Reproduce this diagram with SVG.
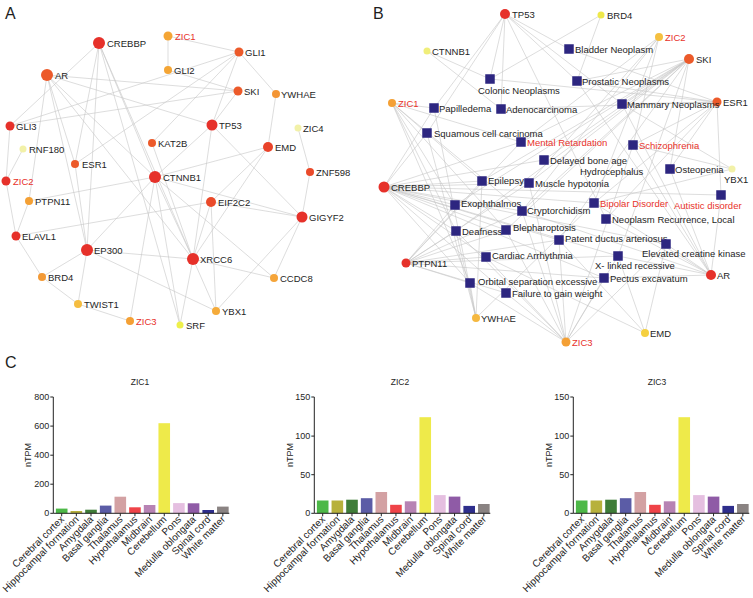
<svg xmlns="http://www.w3.org/2000/svg" width="753" height="598" viewBox="0 0 753 598">
<style>
.e{stroke:#c6c6c6;stroke-width:0.6;fill:none}
text{font-family:"Liberation Sans",Arial,sans-serif;fill:#1e1e1e}
.t{font-size:9.5px}
.r{fill:#e8322a}
.sq{fill:#2d2680}
.pl{font-size:16px}
.ax{stroke:#222;stroke-width:1;fill:none}
.tk{font-size:9px;text-anchor:end}
.xl{font-size:10px;text-anchor:end}
.ti{font-size:8.5px;text-anchor:middle}
</style>
<rect width="753" height="598" fill="#fff"/>
<text class="pl" x="5" y="19">A</text>
<text class="pl" x="373" y="19">B</text>
<text class="pl" x="5" y="368">C</text>

<g id="edges-a">
<path class="e" d="M168 36L168 70M168 36L239 52M239 52L276 94M239 52L212 125M239 52L75 164M239 52L152 143M239 52L10 126M276 94L268 147M298 128L310 172M310 172L302 217M99 43L75 164M99 43L87 250M99 43L155 177M99 43L193 259M99 43L10 126M99 43L180 325M47 75L29 201M47 75L87 250M47 75L75 164M47 75L155 177M47 75L193 259M47 75L238 91M47 75L212 125M10 126L238 91M10 126L6 181M23 149L6 181M6 181L16 236M29 201L16 236M29 201L155 177M75 164L87 250M16 236L211 202M16 236L42 277M87 250L42 277M87 250L78 304M87 250L155 177M87 250L193 259M87 250L216 311M42 277L78 304M78 304L130 321M130 321L155 177M180 325L193 259M180 325L155 177M152 143L193 259M216 311L193 259M216 311L211 202M216 311L302 217M193 259L274 278M193 259L211 202M193 259L212 125M193 259L155 177M193 259L268 147M211 202L302 217M211 202L268 147M302 217L274 278M302 217L155 177M302 217L212 125M268 147L155 177M212 125L155 177M212 125L238 91M238 91L168 70M155 177L274 278"/>
</g>

<g id="a-crebbp"><circle cx="99" cy="43" r="6" fill="#e6312a"/><text class="t" x="107" y="46.5">CREBBP</text></g>
<g id="a-zic1"><circle cx="168" cy="36" r="4.5" fill="#f4a535"/><text class="t r" x="175" y="40" font-size="10.5">ZIC1</text></g>
<g id="a-gli2"><circle cx="168" cy="70" r="4" fill="#f4a535"/><text class="t" x="174" y="73.5">GLI2</text></g>
<g id="a-ar"><circle cx="47" cy="75" r="6" fill="#ec5a2a"/><text class="t" x="55" y="78.5">AR</text></g>
<g id="a-gli1"><circle cx="239" cy="52" r="4.5" fill="#ec5a2a"/><text class="t" x="245" y="55.5">GLI1</text></g>
<g id="a-ski"><circle cx="238" cy="91" r="4.5" fill="#ec5a2a"/><text class="t" x="244" y="94.5">SKI</text></g>
<g id="a-ywhae"><circle cx="276" cy="94" r="4" fill="#f39535"/><text class="t" x="281" y="97.5">YWHAE</text></g>
<g id="a-zic4"><circle cx="298" cy="128" r="3.5" fill="#f2f1a8"/><text class="t" x="303" y="131.5" font-size="10.5" fill="#3b3b96">ZIC4</text></g>
<g id="a-tp53"><circle cx="212" cy="125" r="5.5" fill="#e6312a"/><text class="t" x="219" y="128.5">TP53</text></g>
<g id="a-emd"><circle cx="268" cy="147" r="5" fill="#e9432a"/><text class="t" x="275" y="150.5">EMD</text></g>
<g id="a-gli3"><circle cx="10" cy="126" r="4.5" fill="#e6312a"/><text class="t" x="16" y="129.5">GLI3</text></g>
<g id="a-rnf180"><circle cx="23" cy="149" r="3.5" fill="#f2f1a8"/><text class="t" x="29" y="152.5">RNF180</text></g>
<g id="a-kat2b"><circle cx="152" cy="143" r="4" fill="#ec5a2a"/><text class="t" x="158" y="146.5">KAT2B</text></g>
<g id="a-esr1"><circle cx="75" cy="164" r="4" fill="#ec5a2a"/><text class="t" x="82" y="167.5">ESR1</text></g>
<g id="a-zic2"><circle cx="6" cy="181" r="4.5" fill="#e6312a"/><text class="t r" x="13" y="184.5" font-size="10.5">ZIC2</text></g>
<g id="a-ctnnb1"><circle cx="155" cy="177" r="6" fill="#e6312a"/><text class="t" x="163" y="180.5">CTNNB1</text></g>
<g id="a-ptpn11"><circle cx="29" cy="201" r="4" fill="#f4a035"/><text class="t" x="35" y="204.5">PTPN11</text></g>
<g id="a-elavl1"><circle cx="16" cy="236" r="4.5" fill="#e6312a"/><text class="t" x="22" y="239.5">ELAVL1</text></g>
<g id="a-ep300"><circle cx="87" cy="250" r="6" fill="#e6312a"/><text class="t" x="94" y="253.5">EP300</text></g>
<g id="a-brd4"><circle cx="42" cy="277" r="4" fill="#f39a36"/><text class="t" x="48" y="280.5">BRD4</text></g>
<g id="a-twist1"><circle cx="78" cy="304" r="4" fill="#f5bd40"/><text class="t" x="84" y="307.5">TWIST1</text></g>
<g id="a-zic3"><circle cx="130" cy="321" r="4" fill="#f4a035"/><text class="t r" x="136" y="324.5" font-size="10.5">ZIC3</text></g>
<g id="a-srf"><circle cx="180" cy="325" r="3.5" fill="#eef04a"/><text class="t" x="186" y="328.5">SRF</text></g>
<g id="a-znf598"><circle cx="310" cy="172" r="4" fill="#ea4a2a"/><text class="t" x="316" y="175.5">ZNF598</text></g>
<g id="a-eif2c2"><circle cx="211" cy="202" r="5" fill="#ea4a2a"/><text class="t" x="218" y="205.5">EIF2C2</text></g>
<g id="a-gigyf2"><circle cx="302" cy="217" r="5.5" fill="#e6312a"/><text class="t" x="309" y="220.5">GIGYF2</text></g>
<g id="a-xrcc6"><circle cx="193" cy="259" r="6" fill="#e6312a"/><text class="t" x="200" y="262.5">XRCC6</text></g>
<g id="a-ccdc8"><circle cx="274" cy="278" r="4" fill="#f5a53a"/><text class="t" x="280" y="281.5">CCDC8</text></g>
<g id="a-ybx1"><circle cx="216" cy="311" r="4" fill="#f5ab3a"/><text class="t" x="222" y="314.5">YBX1</text></g>

<g id="edges-b">
<path class="e" d="M505 14L490 79M505 14L501 109M505 14L427 133M505 14L569 49M505 14L577 81M505 14L622 104M505 14L606 219M505 14L434 108"/>
<path class="e" d="M427 51L490 79M427 51L501 109"/>
<path class="e" d="M601 15L577 81M601 15L490 79"/>
<path class="e" d="M659 37L521 142M659 37L529 183M659 37L633 145M659 37L522 211M659 37L594 203"/>
<path class="e" d="M689 59L622 104M689 59L577 81M689 59L521 142M689 59L544 160M689 59L529 183M689 59L522 211M689 59L559 240M689 59L455 205M689 59L506 230M689 59L618 256M689 59L670 169M689 59L482 181M689 59L456 231"/>
<path class="e" d="M717 102L622 104M717 102L569 49M717 102L577 81M717 102L670 169M717 102L721 195M717 102L594 203M717 102L633 145M717 102L606 219M717 102L490 79M717 102L501 109"/>
<path class="e" d="M392 103L434 108M392 103L521 142M392 103L455 205M392 103L456 231M392 103L470 283M392 103L522 211M392 103L506 230M392 103L482 181"/>
<path class="e" d="M384 187L427 133M384 187L434 108M384 187L482 181M384 187L529 183M384 187L455 205M384 187L522 211M384 187L456 231M384 187L506 230M384 187L486 257M384 187L559 240M384 187L470 283M384 187L506 293M384 187L521 142M384 187L544 160M384 187L594 203M384 187L721 195M384 187L604 278M384 187L618 256M384 187L666 244"/>
<path class="e" d="M406 263L486 257M406 263L456 231M406 263L506 230M406 263L559 240M406 263L470 283M406 263L506 293M406 263L604 278M406 263L521 142M406 263L522 211M406 263L455 205M406 263L529 183M406 263L482 181M406 263L618 256"/>
<path class="e" d="M476 318L470 283M476 318L456 231M476 318L427 133M476 318L482 181M476 318L594 203M476 318L434 108"/>
<path class="e" d="M566 342L470 283M566 342L506 293M566 342L486 257M566 342L559 240M566 342L604 278M566 342L506 230M566 342L522 211M566 342L529 183M566 342L618 256M566 342L456 231M566 342L633 145M566 342L666 244"/>
<path class="e" d="M645 333L666 244M645 333L618 256M645 333L486 257M645 333L559 240"/>
<path class="e" d="M711 275L721 195M711 275L666 244M711 275L618 256M711 275L577 81M711 275L622 104M711 275L594 203M711 275L606 219M711 275L670 169M711 275L633 145M711 275L604 278M711 275L522 211"/>
<path class="e" d="M732 169L622 104M732 169L633 145M732 169L594 203"/>
</g>

<g id="b-tp53"><circle cx="505" cy="14" r="5" fill="#e6312a"/><text class="t" x="512" y="17.5">TP53</text></g>
<g id="b-brd4"><circle cx="601" cy="15" r="3.5" fill="#eee84a"/><text class="t" x="607" y="18.5">BRD4</text></g>
<g id="b-zic2"><circle cx="659" cy="37" r="4" fill="#f5c040"/><text class="t r" x="665" y="40.5" font-size="10.5">ZIC2</text></g>
<g id="b-ski"><circle cx="689" cy="59" r="5" fill="#ec5a2a"/><text class="t" x="696" y="62.5">SKI</text></g>
<g id="b-esr1"><circle cx="717" cy="102" r="4.5" fill="#ec5a2a"/><text class="t" x="723" y="105.5">ESR1</text></g>
<g id="b-ctnnb1"><circle cx="427" cy="51" r="3.5" fill="#f0ee7a"/><text class="t" x="432" y="54.5">CTNNB1</text></g>
<g id="b-zic1"><circle cx="392" cy="103" r="4" fill="#f4a035"/><text class="t r" x="398" y="106.5" font-size="10.5">ZIC1</text></g>
<g id="b-crebbp"><circle cx="384" cy="187" r="5.5" fill="#e6312a"/><text class="t" x="391" y="190.5">CREBBP</text></g>
<g id="b-ptpn11"><circle cx="406" cy="263" r="4.5" fill="#e6312a"/><text class="t" x="412" y="266.5">PTPN11</text></g>
<g id="b-ywhae"><circle cx="476" cy="318" r="4" fill="#f5b840"/><text class="t" x="481" y="321.5">YWHAE</text></g>
<g id="b-zic3"><circle cx="566" cy="342" r="4.5" fill="#f4a035"/><text class="t r" x="572" y="345.5" font-size="10.5">ZIC3</text></g>
<g id="b-emd"><circle cx="645" cy="333" r="4" fill="#f5d040"/><text class="t" x="650" y="336.5">EMD</text></g>
<g id="b-ar"><circle cx="711" cy="275" r="5" fill="#e6312a"/><text class="t" x="717" y="278.5">AR</text></g>
<g id="b-ybx1"><circle cx="732" cy="169" r="3.5" fill="#f2f1a8"/><text class="t" x="724" y="182.5">YBX1</text></g>

<g id="b-colonic"><rect class="sq" x="485.25" y="74.25" width="9.5" height="9.5"/><text class="t" x="478" y="93.5">Colonic Neoplasms</text></g>
<g id="b-papilledema"><rect class="sq" x="429.25" y="103.25" width="9.5" height="9.5"/><text class="t" x="439" y="111.5">Papilledema</text></g>
<g id="b-adeno"><rect class="sq" x="496.25" y="104.25" width="9.5" height="9.5"/><text class="t" x="506" y="112.5">Adenocarcinoma</text></g>
<g id="b-squamous"><rect class="sq" x="422.25" y="128.25" width="9.5" height="9.5"/><text class="t" x="434" y="136.5">Squamous cell carcinoma</text></g>
<g id="b-mental"><rect class="sq" x="516.25" y="137.25" width="9.5" height="9.5"/><text class="t r" x="527" y="145.5">Mental Retardation</text></g>
<g id="b-delayed"><rect class="sq" x="539.25" y="155.25" width="9.5" height="9.5"/><text class="t" x="550" y="163.5">Delayed bone age</text></g>
<g id="b-bladder"><rect class="sq" x="564.25" y="44.25" width="9.5" height="9.5"/><text class="t" x="575" y="52.5">Bladder Neoplasm</text></g>
<g id="b-prostatic"><rect class="sq" x="572.25" y="76.25" width="9.5" height="9.5"/><text class="t" x="582" y="84.5">Prostatic Neoplasms</text></g>
<g id="b-mammary"><rect class="sq" x="617.25" y="99.25" width="9.5" height="9.5"/><text class="t" x="627" y="107.5">Mammary Neoplasms</text></g>
<g id="b-schizo"><rect class="sq" x="628.25" y="140.25" width="9.5" height="9.5"/><text class="t r" x="639" y="148.5">Schizophrenia</text></g>
<g id="b-hydro"><text class="t" x="580" y="174.5">Hydrocephalus</text></g>
<g id="b-osteo"><rect class="sq" x="665.25" y="164.25" width="9.5" height="9.5"/><text class="t" x="675" y="172.5">Osteopenia</text></g>
<g id="b-epilepsy"><rect class="sq" x="477.25" y="176.25" width="9.5" height="9.5"/><text class="t" x="488" y="184">Epilepsy</text></g>
<g id="b-muscle"><rect class="sq" x="524.25" y="178.25" width="9.5" height="9.5"/><text class="t" x="535" y="186.5">Muscle hypotonia</text></g>
<g id="b-exoph"><rect class="sq" x="450.25" y="200.25" width="9.5" height="9.5"/><text class="t" x="461" y="207">Exophthalmos</text></g>
<g id="b-crypto"><rect class="sq" x="517.25" y="206.25" width="9.5" height="9.5"/><text class="t" x="527" y="213.5">Cryptorchidism</text></g>
<g id="b-bipolar"><rect class="sq" x="589.25" y="198.25" width="9.5" height="9.5"/><text class="t r" x="600" y="206.5">Bipolar Disorder</text></g>
<g id="b-autistic"><rect class="sq" x="716.25" y="190.25" width="9.5" height="9.5"/><text class="t r" x="674" y="209" font-size="11">Autistic disorder</text></g>
<g id="b-neoplasm"><rect class="sq" x="601.25" y="214.25" width="9.5" height="9.5"/><text class="t" x="612" y="222.5">Neoplasm Recurrence, Local</text></g>
<g id="b-deafness"><rect class="sq" x="451.25" y="226.25" width="9.5" height="9.5"/><text class="t" x="462" y="234.5">Deafness</text></g>
<g id="b-bleph"><rect class="sq" x="501.25" y="225.25" width="9.5" height="9.5"/><text class="t" x="513" y="230.5">Blepharoptosis</text></g>
<g id="b-patent"><rect class="sq" x="554.25" y="235.25" width="9.5" height="9.5"/><text class="t" x="565" y="241.5">Patent ductus arteriosus</text></g>
<g id="b-elevated"><rect class="sq" x="661.25" y="239.25" width="9.5" height="9.5"/><text class="t" x="642" y="256.5">Elevated creatine kinase</text></g>
<g id="b-cardiac"><rect class="sq" x="481.25" y="252.25" width="9.5" height="9.5"/><text class="t" x="492" y="258.5">Cardiac Arrhythmia</text></g>
<g id="b-xlinked"><rect class="sq" x="613.25" y="251.25" width="9.5" height="9.5"/><text class="t" x="595" y="268.5">X- linked recessive</text></g>
<g id="b-pectus"><rect class="sq" x="599.25" y="273.25" width="9.5" height="9.5"/><text class="t" x="610" y="281.5">Pectus excavatum</text></g>
<g id="b-orbital"><rect class="sq" x="465.25" y="278.25" width="9.5" height="9.5"/><text class="t" x="478" y="285">Orbital separation excessive</text></g>
<g id="b-failure"><rect class="sq" x="501.25" y="288.25" width="9.5" height="9.5"/><text class="t" x="512" y="296.5">Failure to gain weight</text></g>

<!-- Chart ZIC1 -->
<g id="chart-zic1">
<text class="ti" x="140" y="385">ZIC1</text>
<text font-size="9" text-anchor="middle" transform="translate(31,455) rotate(-90)">nTPM</text>
<g transform="translate(53.3,0)">
<rect x="2.6" y="508.6" width="11.6" height="4.7" fill="#4db848"/>
<rect x="17.25" y="511" width="11.6" height="2.3" fill="#b7b13c"/>
<rect x="31.9" y="509.7" width="11.6" height="3.6" fill="#3f7d38"/>
<rect x="46.55" y="505.6" width="11.6" height="7.7" fill="#5b5ca6"/>
<rect x="61.2" y="496.7" width="11.6" height="16.6" fill="#d3a1a3"/>
<rect x="75.85" y="507.3" width="11.6" height="6" fill="#ef4348"/>
<rect x="90.5" y="505" width="11.6" height="8.3" fill="#b783b4"/>
<rect x="105.15" y="423.2" width="11.6" height="90.1" fill="#eeea4a"/>
<rect x="119.8" y="503.1" width="11.6" height="10.2" fill="#e5bfe0"/>
<rect x="134.45" y="503.3" width="11.6" height="10" fill="#8f5ba6"/>
<rect x="149.1" y="510" width="11.6" height="3.3" fill="#2e2e8c"/>
<rect x="163.75" y="506.6" width="11.6" height="6.7" fill="#8a8382"/>
<path class="ax" d="M0 397V513.3H176M-3 397H0M-3 426.1H0M-3 455.2H0M-3 484.2H0M-3 513.3H0M8.4 513.3v3M23.05 513.3v3M37.7 513.3v3M52.35 513.3v3M67 513.3v3M81.65 513.3v3M96.3 513.3v3M110.95 513.3v3M125.6 513.3v3M140.25 513.3v3M154.9 513.3v3M169.55 513.3v3"/>
<text class="tk" x="-4" y="400">800</text>
<text class="tk" x="-4" y="429.1">600</text>
<text class="tk" x="-4" y="458.2">400</text>
<text class="tk" x="-4" y="487.2">200</text>
<text class="tk" x="-4" y="516.3">0</text>
<text class="xl" transform="translate(11.4,520) rotate(-45)">Cerebral cortex</text>
<text class="xl" transform="translate(26.05,520) rotate(-45)">Hippocampal formation</text>
<text class="xl" transform="translate(40.7,520) rotate(-45)">Amygdala</text>
<text class="xl" transform="translate(55.35,520) rotate(-45)">Basal ganglia</text>
<text class="xl" transform="translate(70,520) rotate(-45)">Thalamus</text>
<text class="xl" transform="translate(84.65,520) rotate(-45)">Hypothalamus</text>
<text class="xl" transform="translate(99.3,520) rotate(-45)">Midbrain</text>
<text class="xl" transform="translate(113.95,520) rotate(-45)">Cerebellum</text>
<text class="xl" transform="translate(128.6,520) rotate(-45)">Pons</text>
<text class="xl" transform="translate(143.25,520) rotate(-45)">Medulla oblongata</text>
<text class="xl" transform="translate(157.9,520) rotate(-45)">Spinal cord</text>
<text class="xl" transform="translate(172.55,520) rotate(-45)">White matter</text>
</g>
</g>

<!-- Chart ZIC2 -->
<g id="chart-zic2">
<text class="ti" x="400" y="385">ZIC2</text>
<text font-size="9" text-anchor="middle" transform="translate(293,455) rotate(-90)">nTPM</text>
<g transform="translate(314.3,0)">
<rect x="2.6" y="500.5" width="11.6" height="12.8" fill="#4db848"/>
<rect x="17.25" y="500.5" width="11.6" height="12.8" fill="#b7b13c"/>
<rect x="31.9" y="499.7" width="11.6" height="13.6" fill="#3f7d38"/>
<rect x="46.55" y="498.2" width="11.6" height="15.1" fill="#5b5ca6"/>
<rect x="61.2" y="492" width="11.6" height="21.3" fill="#d3a1a3"/>
<rect x="75.85" y="504.8" width="11.6" height="8.5" fill="#ef4348"/>
<rect x="90.5" y="501.3" width="11.6" height="12" fill="#b783b4"/>
<rect x="105.15" y="417.2" width="11.6" height="96.1" fill="#eeea4a"/>
<rect x="119.8" y="495.1" width="11.6" height="18.2" fill="#e5bfe0"/>
<rect x="134.45" y="496.6" width="11.6" height="16.7" fill="#8f5ba6"/>
<rect x="149.1" y="505.9" width="11.6" height="7.4" fill="#2e2e8c"/>
<rect x="163.75" y="504" width="11.6" height="9.3" fill="#8a8382"/>
<path class="ax" d="M0 397V513.3H176M-3 397H0M-3 436.1H0M-3 474.7H0M-3 513.3H0M8.4 513.3v3M23.05 513.3v3M37.7 513.3v3M52.35 513.3v3M67 513.3v3M81.65 513.3v3M96.3 513.3v3M110.95 513.3v3M125.6 513.3v3M140.25 513.3v3M154.9 513.3v3M169.55 513.3v3"/>
<text class="tk" x="-4" y="400">150</text>
<text class="tk" x="-4" y="439.1">100</text>
<text class="tk" x="-4" y="477.7">50</text>
<text class="tk" x="-4" y="516.3">0</text>
<text class="xl" transform="translate(11.4,520) rotate(-45)">Cerebral cortex</text>
<text class="xl" transform="translate(26.05,520) rotate(-45)">Hippocampal formation</text>
<text class="xl" transform="translate(40.7,520) rotate(-45)">Amygdala</text>
<text class="xl" transform="translate(55.35,520) rotate(-45)">Basal ganglia</text>
<text class="xl" transform="translate(70,520) rotate(-45)">Thalamus</text>
<text class="xl" transform="translate(84.65,520) rotate(-45)">Hypothalamus</text>
<text class="xl" transform="translate(99.3,520) rotate(-45)">Midbrain</text>
<text class="xl" transform="translate(113.95,520) rotate(-45)">Cerebellum</text>
<text class="xl" transform="translate(128.6,520) rotate(-45)">Pons</text>
<text class="xl" transform="translate(143.25,520) rotate(-45)">Medulla oblongata</text>
<text class="xl" transform="translate(157.9,520) rotate(-45)">Spinal cord</text>
<text class="xl" transform="translate(172.55,520) rotate(-45)">White matter</text>
</g>
</g>

<!-- Chart ZIC3 -->
<g id="chart-zic3">
<text class="ti" x="657" y="385">ZIC3</text>
<text font-size="9" text-anchor="middle" transform="translate(552,455) rotate(-90)">nTPM</text>
<g transform="translate(573.3,0)">
<rect x="2.6" y="500.5" width="11.6" height="12.8" fill="#4db848"/>
<rect x="17.25" y="500.5" width="11.6" height="12.8" fill="#b7b13c"/>
<rect x="31.9" y="499.7" width="11.6" height="13.6" fill="#3f7d38"/>
<rect x="46.55" y="498.2" width="11.6" height="15.1" fill="#5b5ca6"/>
<rect x="61.2" y="492" width="11.6" height="21.3" fill="#d3a1a3"/>
<rect x="75.85" y="504.8" width="11.6" height="8.5" fill="#ef4348"/>
<rect x="90.5" y="501.3" width="11.6" height="12" fill="#b783b4"/>
<rect x="105.15" y="417.2" width="11.6" height="96.1" fill="#eeea4a"/>
<rect x="119.8" y="495.1" width="11.6" height="18.2" fill="#e5bfe0"/>
<rect x="134.45" y="496.6" width="11.6" height="16.7" fill="#8f5ba6"/>
<rect x="149.1" y="505.9" width="11.6" height="7.4" fill="#2e2e8c"/>
<rect x="163.75" y="504" width="11.6" height="9.3" fill="#8a8382"/>
<path class="ax" d="M0 397V513.3H176M-3 397H0M-3 436.1H0M-3 474.7H0M-3 513.3H0M8.4 513.3v3M23.05 513.3v3M37.7 513.3v3M52.35 513.3v3M67 513.3v3M81.65 513.3v3M96.3 513.3v3M110.95 513.3v3M125.6 513.3v3M140.25 513.3v3M154.9 513.3v3M169.55 513.3v3"/>
<text class="tk" x="-4" y="400">150</text>
<text class="tk" x="-4" y="439.1">100</text>
<text class="tk" x="-4" y="477.7">50</text>
<text class="tk" x="-4" y="516.3">0</text>
<text class="xl" transform="translate(11.4,520) rotate(-45)">Cerebral cortex</text>
<text class="xl" transform="translate(26.05,520) rotate(-45)">Hippocampal formation</text>
<text class="xl" transform="translate(40.7,520) rotate(-45)">Amygdala</text>
<text class="xl" transform="translate(55.35,520) rotate(-45)">Basal ganglia</text>
<text class="xl" transform="translate(70,520) rotate(-45)">Thalamus</text>
<text class="xl" transform="translate(84.65,520) rotate(-45)">Hypothalamus</text>
<text class="xl" transform="translate(99.3,520) rotate(-45)">Midbrain</text>
<text class="xl" transform="translate(113.95,520) rotate(-45)">Cerebellum</text>
<text class="xl" transform="translate(128.6,520) rotate(-45)">Pons</text>
<text class="xl" transform="translate(143.25,520) rotate(-45)">Medulla oblongata</text>
<text class="xl" transform="translate(157.9,520) rotate(-45)">Spinal cord</text>
<text class="xl" transform="translate(172.55,520) rotate(-45)">White matter</text>
</g>
</g>
</svg>
